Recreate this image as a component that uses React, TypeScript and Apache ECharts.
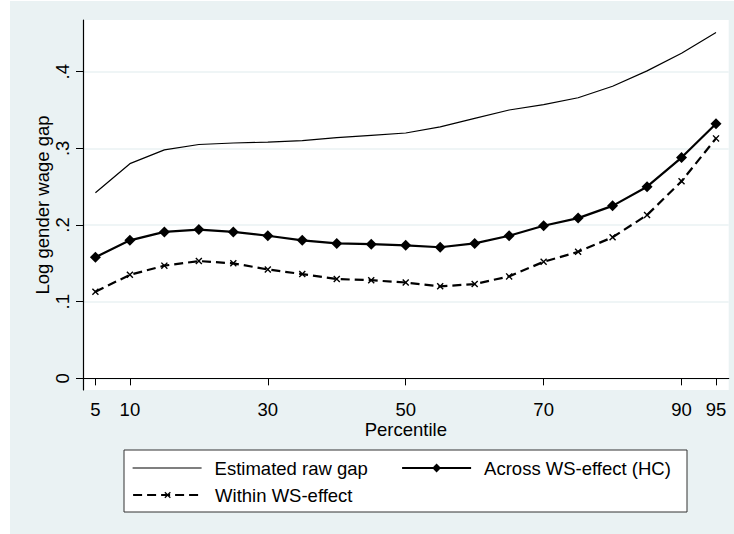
import React, { useEffect, useRef } from "react";
import * as echarts from "echarts";

const percentiles = [5, 10, 15, 20, 25, 30, 35, 40, 45, 50, 55, 60, 65, 70, 75, 80, 85, 90, 95];
const rawGap = [0.242, 0.28, 0.298, 0.305, 0.307, 0.308, 0.31, 0.314, 0.317, 0.32, 0.328, 0.339, 0.35, 0.357, 0.366, 0.381, 0.401, 0.424, 0.451];
const acrossWS = [0.158, 0.18, 0.191, 0.194, 0.191, 0.186, 0.18, 0.176, 0.175, 0.1735, 0.171, 0.176, 0.186, 0.199, 0.209, 0.225, 0.25, 0.288, 0.332];
const withinWS = [0.113, 0.135, 0.147, 0.153, 0.15, 0.142, 0.136, 0.1295, 0.128, 0.125, 0.12, 0.123, 0.133, 0.152, 0.165, 0.184, 0.213, 0.257, 0.313];
const xTicks = [5, 10, 30, 50, 70, 90, 95];
const yTicks = [0, 0.1, 0.2, 0.3, 0.4];
const seriesNames = ["Estimated raw gap", "Across WS-effect (HC)", "Within WS-effect"];

const FONT = "Liberation Sans";
const FS = 18.5;
const X_SYMBOL = "path://M0,1.4L1.4,0L5,3.6L8.6,0L10,1.4L6.4,5L10,8.6L8.6,10L5,6.4L1.4,10L0,8.6L3.6,5Z";

const pair = (ys: number[]) => percentiles.map((p, i) => [p, ys[i]]);

export default function App() {
  const ref = useRef<HTMLDivElement>(null);
  useEffect(() => {
    if (!ref.current) return;
    const chart = echarts.init(ref.current, undefined, { renderer: "svg" });
    const legendBase = {
      orient: "horizontal",
      padding: 0,
      itemWidth: 69,
      itemHeight: 9,
      textStyle: { fontFamily: FONT, fontSize: FS, color: "#000", lineHeight: 20, padding: [0, 0, 0, 8] },
      selectedMode: false,
    };
    chart.setOption({
      animation: false,
      textStyle: { fontFamily: FONT },
      grid: {
        left: 83,
        top: 20,
        width: 645.7,
        height: 370,
        show: true,
        backgroundColor: "#ffffff",
        borderWidth: 0,
      },
      xAxis: {
        type: "value",
        min: 3.2,
        max: 96.84,
        name: "Percentile",
        nameLocation: "middle",
        nameGap: 30,
        nameMoveOverlap: false,
        nameTextStyle: { fontFamily: FONT, fontSize: FS, color: "#000" },
        axisLine: { show: true, lineStyle: { color: "#000", width: 1.2 } },
        axisTick: { show: true, length: 7, customValues: xTicks, lineStyle: { color: "#000" } },
        axisLabel: { customValues: xTicks, fontFamily: FONT, fontSize: FS, color: "#000", margin: 10 },
        splitLine: { show: false },
      },
      yAxis: {
        type: "value",
        min: -0.0152,
        max: 0.4674,
        name: "Log gender wage gap",
        nameLocation: "middle",
        nameGap: 31,
        nameMoveOverlap: false,
        nameRotate: 90,
        nameTextStyle: { fontFamily: FONT, fontSize: FS, color: "#000" },
        axisLine: { show: true, lineStyle: { color: "#000", width: 1.2 } },
        axisTick: { show: true, length: 7, customValues: yTicks, lineStyle: { color: "#000" } },
        axisLabel: {
          customValues: yTicks,
          rotate: 90,
          fontFamily: FONT,
          fontSize: FS,
          color: "#000",
          margin: 11,
          formatter: (v: number) => (Math.abs(v) < 1e-9 ? "0" : v.toFixed(1).replace(/^0\./, ".")),
        },
        splitLine: { show: true, lineStyle: { color: "#eaf2f3", width: 1.5 } },
      },
      legend: [
        {
          ...legendBase,
          data: [{ name: seriesNames[0], itemStyle: { opacity: 0 }, lineStyle: { width: 1.2, color: "#000" } }],
          left: 132,
          top: 458,
        },
        {
          ...legendBase,
          itemHeight: 11,
          data: [{ name: seriesNames[1], lineStyle: { width: 2.2, color: "#000" } }],
          left: 401,
          top: 458,
        },
        {
          ...legendBase,
          itemHeight: 8,
          data: [{ name: seriesNames[2], lineStyle: { width: 2.2, color: "#000", type: [9, 5] } }],
          left: 132,
          top: 485,
        },
      ],
      graphic: [
        {
          type: "rect",
          z: 0,
          shape: { x: 124, y: 450, width: 563, height: 62 },
          style: { fill: "#ffffff", stroke: "#333333", lineWidth: 1 },
        },
      ],
      series: [
        {
          name: seriesNames[0],
          type: "line",
          data: pair(rawGap),
          showSymbol: false,
          symbol: "none",
          lineStyle: { color: "#000", width: 1.2 },
          itemStyle: { color: "#000" },
          z: 3,
        },
        {
          name: seriesNames[1],
          type: "line",
          data: pair(acrossWS),
          symbol: "diamond",
          symbolSize: 11,
          lineStyle: { color: "#000", width: 2.2 },
          itemStyle: { color: "#000" },
          z: 3,
        },
        {
          name: seriesNames[2],
          type: "line",
          data: pair(withinWS),
          symbol: X_SYMBOL,
          symbolSize: 7,
          lineStyle: { color: "#000", width: 2.2, type: [9, 5] },
          itemStyle: { color: "#000" },
          z: 3,
        },
      ],
    });
    return () => chart.dispose();
  }, []);
  return (
    <div style={{ position: "fixed", left: 0, top: 0, width: 734, height: 534, background: "#ffffff" }}>
      <div style={{ position: "absolute", left: 10, top: 1, width: 724, height: 533, background: "#eaf2f3" }} />
      <div ref={ref} style={{ position: "absolute", left: 0, top: 0, width: 734, height: 534 }} />
    </div>
  );
}
